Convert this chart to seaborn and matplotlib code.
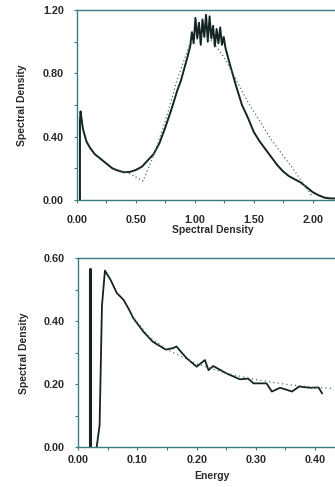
import matplotlib
matplotlib.use("Agg")
import matplotlib.pyplot as plt
import seaborn as sns
from matplotlib.ticker import MultipleLocator, FormatStrFormatter

sns.set_style("ticks")
plt.rcParams['font.family'] = ['Liberation Sans', 'DejaVu Sans']

# ---- top panel data ----
top_x = [0.025, 0.025, 0.03, 0.05, 0.08, 0.11, 0.15, 0.20, 0.25, 0.30, 0.35, 0.40, 0.45,
         0.50, 0.55, 0.60, 0.65, 0.70, 0.75, 0.80, 0.85, 0.88, 0.91, 0.94, 0.96,
         0.975, 0.99, 1.005, 1.02, 1.035, 1.05, 1.065, 1.08, 1.095, 1.11, 1.125, 1.14,
         1.155, 1.17, 1.185, 1.20, 1.215, 1.23, 1.245, 1.26,
         1.30, 1.35, 1.40, 1.45, 1.50, 1.55, 1.60, 1.65, 1.70, 1.75, 1.80, 1.85, 1.90,
         1.95, 2.00, 2.05, 2.10, 2.15, 2.20, 2.30]
top_y = [0.00, 0.50, 0.56, 0.45, 0.37, 0.33, 0.29, 0.26, 0.23, 0.20, 0.185, 0.175, 0.178,
         0.19, 0.21, 0.25, 0.29, 0.36, 0.46, 0.57, 0.69, 0.75, 0.83, 0.91, 0.97,
         1.06, 0.99, 1.15, 1.02, 1.12, 0.98, 1.14, 1.03, 1.17, 1.00, 1.16, 1.02,
         1.10, 0.97, 1.08, 0.99, 1.09, 0.98, 1.03, 0.96,
         0.85, 0.72, 0.60, 0.52, 0.43, 0.37, 0.32, 0.27, 0.22, 0.18, 0.15, 0.13, 0.11,
         0.08, 0.05, 0.03, 0.015, 0.01, 0.01, 0.01]
top_fit_x = [0.35, 0.45, 0.56, 0.65, 0.75, 0.85, 0.95, 1.05, 1.15, 1.25, 1.35, 1.45,
             1.55, 1.65, 1.75, 1.85, 1.95, 2.00]
top_fit_y = [0.19, 0.165, 0.12, 0.28, 0.50, 0.76, 0.97, 1.05, 1.00, 0.90, 0.76, 0.62,
             0.50, 0.38, 0.28, 0.18, 0.07, 0.02]

# ---- bottom panel data ----
delta_x = [0.02, 0.02]
delta_y = [0.0, 0.565]
bot_x = [0.031, 0.036, 0.040, 0.045, 0.055, 0.065, 0.0765, 0.085, 0.093, 0.11, 0.126,
         0.148, 0.16, 0.166, 0.175, 0.183, 0.20, 0.214, 0.22, 0.228, 0.25, 0.273, 0.287,
         0.296, 0.318, 0.327, 0.341, 0.353, 0.361, 0.373, 0.392, 0.406, 0.412]
bot_y = [0.0, 0.07, 0.45, 0.561, 0.53, 0.49, 0.468, 0.44, 0.41, 0.367, 0.335,
         0.31, 0.315, 0.32, 0.30, 0.283, 0.256, 0.277, 0.245, 0.258, 0.235, 0.216, 0.218,
         0.203, 0.203, 0.177, 0.189, 0.182, 0.177, 0.193, 0.189, 0.19, 0.171]
bot_fit_x = [0.09, 0.12, 0.15, 0.20, 0.25, 0.30, 0.35, 0.40, 0.43]
bot_fit_y = [0.42, 0.35, 0.31, 0.265, 0.235, 0.215, 0.20, 0.19, 0.187]

line_c = '#142424'
spine_c = '#3a7f80'
text_c = '#2a2a2a'

fig = plt.figure(figsize=(3.35, 4.87), dpi=100)
ax1 = fig.add_axes([0.2299, 0.5893, 0.809, 0.3901])
ax2 = fig.add_axes([0.2337, 0.0815, 0.795, 0.3881])

sns.lineplot(x=top_x, y=top_y, ax=ax1, sort=False, estimator=None, color=line_c, lw=1.4)
sns.lineplot(x=top_fit_x, y=top_fit_y, ax=ax1, sort=False, estimator=None, color='#4a7070',
             lw=0.9, linestyle=(0, (1, 2)))
sns.lineplot(x=delta_x, y=delta_y, ax=ax2, sort=False, estimator=None, color=line_c, lw=2.2)
sns.lineplot(x=bot_x, y=bot_y, ax=ax2, sort=False, estimator=None, color=line_c, lw=1.3)
sns.lineplot(x=bot_fit_x, y=bot_fit_y, ax=ax2, sort=False, estimator=None, color='#4a7070',
             lw=0.9, linestyle=(0, (1, 2.5)))

ax1.set_xlim(0, 2.3)
ax1.set_ylim(0, 1.2)
ax1.xaxis.set_major_locator(MultipleLocator(0.5))
ax1.xaxis.set_minor_locator(MultipleLocator(0.25))
ax1.yaxis.set_major_locator(MultipleLocator(0.4))
ax1.yaxis.set_minor_locator(MultipleLocator(0.2))

ax2.set_xlim(0, 0.45)
ax2.set_ylim(0, 0.6)
ax2.xaxis.set_major_locator(MultipleLocator(0.1))
ax2.xaxis.set_minor_locator(MultipleLocator(0.05))
ax2.yaxis.set_major_locator(MultipleLocator(0.2))
ax2.yaxis.set_minor_locator(MultipleLocator(0.1))

for ax, xl, xpad, lpad in [(ax1, 'Spectral Density', 8, 0), (ax2, 'Energy', 3, 4)]:
    ax.xaxis.set_major_formatter(FormatStrFormatter('%.2f'))
    ax.yaxis.set_major_formatter(FormatStrFormatter('%.2f'))
    ax.spines['right'].set_visible(False)
    for s in ['left', 'bottom', 'top']:
        ax.spines[s].set_color(spine_c)
        ax.spines[s].set_linewidth(1.0)
    ax.tick_params(which='major', direction='out', length=2.5, width=0.8, color=spine_c,
                   labelsize=7.8, labelcolor=text_c)
    ax.tick_params(axis='y', which='major', pad=7)
    ax.tick_params(axis='x', which='major', pad=xpad)
    ax.tick_params(which='minor', direction='out', length=2, width=0.8, color=spine_c)
    for lab in ax.get_xticklabels() + ax.get_yticklabels():
        lab.set_fontweight('bold')
    ax.set_xlabel(xl, fontsize=7.5, fontweight='bold', color=text_c, labelpad=lpad)
    ax.set_ylabel('Spectral Density', fontsize=7.5, fontweight='bold', color=text_c, labelpad=11)

fig.savefig('out.png', dpi=100)
